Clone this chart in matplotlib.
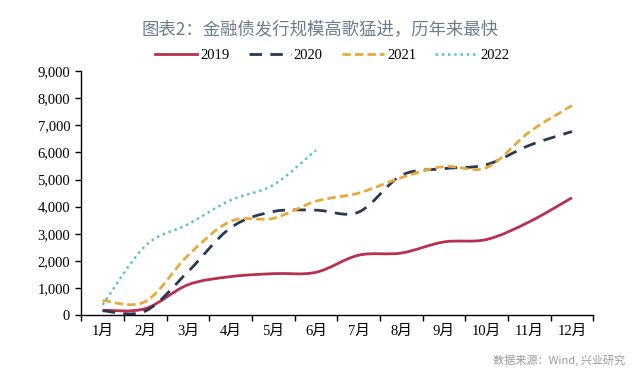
import numpy as np
import matplotlib
matplotlib.use("Agg")
import matplotlib.pyplot as plt
from matplotlib.path import Path
from matplotlib.patches import PathPatch
from matplotlib.lines import Line2D

plt.rcParams['font.family'] = ['Liberation Serif', 'Noto Sans CJK SC']

# data (亿元, cumulative issuance by month)
months = ['1月', '2月', '3月', '4月', '5月', '6月', '7月', '8月', '9月', '10月', '11月', '12月']
y2019 = [180, 240, 1120, 1420, 1530, 1580, 2210, 2290, 2700, 2790, 3440, 4330]
y2020 = [160, 150, 1600, 3220, 3820, 3870, 3800, 5150, 5400, 5550, 6260, 6770]
y2021 = [540, 500, 2200, 3460, 3570, 4200, 4500, 5070, 5480, 5440, 6750, 7730]
y2022 = [380, 2550, 3350, 4240, 4800, 6080]
yticks = [0, 1000, 2000, 3000, 4000, 5000, 6000, 7000, 8000, 9000]


def smooth_path(xs, ys, t=1/6):
    # excel-style smoothed line: catmull-rom turned into cubic beziers
    pts = np.column_stack([xs, ys]).astype(float)
    verts = [pts[0]]
    codes = [Path.MOVETO]
    n = len(pts)
    for i in range(n - 1):
        p0 = pts[i - 1] if i > 0 else pts[i]
        p1 = pts[i]
        p2 = pts[i + 1]
        p3 = pts[i + 2] if i + 2 < n else pts[i + 1]
        c1 = p1 + (p2 - p0) * t
        c2 = p2 - (p3 - p1) * t
        verts += [c1, c2, p2]
        codes += [Path.CURVE4] * 3
    return Path(verts, codes)


fig = plt.figure(figsize=(6.4, 3.82), dpi=100)
ax = fig.add_axes([0.127, 0.175, 0.800, 0.639])

styles = [
    ('2019', y2019, dict(color='#B8304F', linestyle='-', linewidth=2.0)),
    ('2020', y2020, dict(color='#2B3850', linestyle=(0, (4.5, 3)), linewidth=2.0)),
    ('2021', y2021, dict(color='#E9A93A', linestyle=(0, (3, 1.5)), linewidth=2.0)),
    ('2022', y2022, dict(color='#5BC3C8', linestyle=(0, (1, 1.5)), linewidth=1.8)),
]

handles = []
for name, vals, st in styles:
    x = np.arange(len(vals))
    ax.add_patch(PathPatch(smooth_path(x, vals), fill=False, capstyle='butt', **st))
    handles.append(Line2D([], [], label=name, **st))

ax.set_xlim(-0.5, 11.5)
ax.set_ylim(0, 9000)
ax.set_yticks(yticks)
ax.set_yticklabels([f'{v:,}' for v in yticks])
ax.set_xticks(np.arange(-0.5, 12, 1))
ax.set_xticklabels([])
ax.set_xticks(np.arange(12), minor=True)
ax.set_xticklabels(months, minor=True)

ax.tick_params(axis='x', which='major', direction='out', length=4, width=1)
ax.tick_params(axis='x', which='minor', length=0, pad=7, labelsize=10.5)
ax.tick_params(axis='y', direction='out', length=4, width=1, labelsize=10.5, pad=4)
for s in ['top', 'right']:
    ax.spines[s].set_visible(False)
for s in ['left', 'bottom']:
    ax.spines[s].set_linewidth(1.0)

fig.text(0.5, 0.925, '图表2：金融债发行规模高歌猛进，历年来最快', ha='center', va='center',
         fontsize=12.5, color='#6B7D8F', family=['Noto Sans CJK SC', 'DejaVu Sans'])

fig.legend(handles=handles, loc='center', bbox_to_anchor=(0.519, 0.855), ncol=4,
           frameon=False, fontsize=10.5, handlelength=2.9, handletextpad=0.2, columnspacing=1.3)

fig.text(0.977, 0.058, '数据来源：Wind, 兴业研究', ha='right', va='center', fontsize=8,
         color='#999999', family=['Noto Sans CJK SC', 'DejaVu Sans'])

fig.savefig('out.png', dpi=100)
